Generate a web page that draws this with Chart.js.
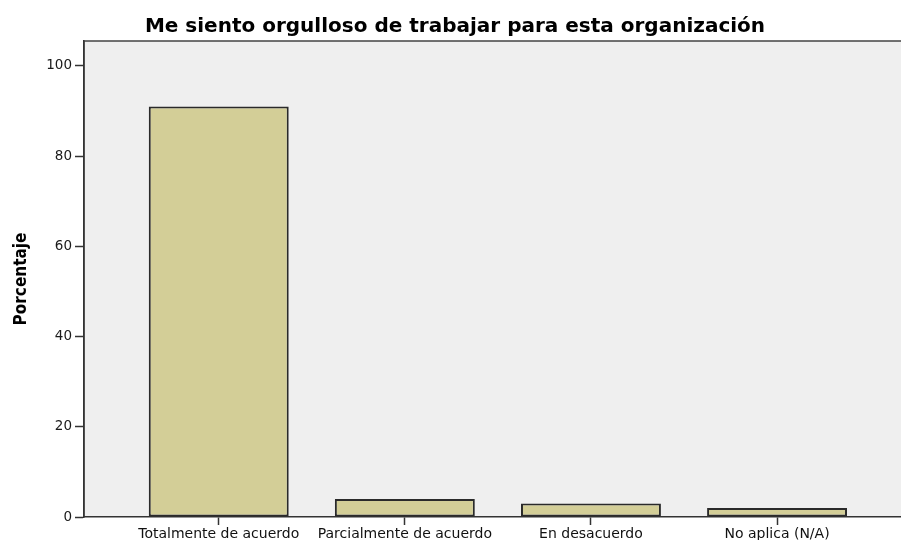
<!DOCTYPE html>
<html>
<head>
<meta charset="utf-8">
<script src="https://cdn.jsdelivr.net/npm/chart.js@4.4.1/dist/chart.umd.min.js"></script>
<style>
    html, body { margin: 0; padding: 0; background: #fff; overflow: hidden; }
    #wrap { position: relative; width: 901px; height: 540px; }
</style>
</head>
<body>
<div id="wrap"><canvas id="chart"></canvas></div>
<script>
// datos
const chartTitle = 'Me siento orgulloso de trabajar para esta organización';
const categories = ['Totalmente de acuerdo', 'Parcialmente de acuerdo', 'En desacuerdo', 'No aplica (N/A)'];
const percentages = [91, 4, 3, 2];
const yTicks = [0, 20, 40, 60, 80, 100];
const yLabel = 'Porcentaje';

// fondo gris y marco del área de trazado (estilo SPSS)
const plotFrame = {
    id: 'plotFrame',
    beforeDraw(chart) {
        const { ctx, chartArea: a } = chart;
        ctx.save();
        ctx.fillStyle = '#efefef';
        ctx.fillRect(a.left, a.top, a.right - a.left, a.bottom - a.top);
        ctx.strokeStyle = '#444';
        ctx.lineWidth = 1.5;
        ctx.beginPath();
        ctx.moveTo(a.left, a.bottom);
        ctx.lineTo(a.left, a.top);
        ctx.lineTo(a.right, a.top);
        ctx.stroke();
        ctx.restore();
    }
};

Chart.defaults.font.family = "'DejaVu Sans', sans-serif";
Chart.defaults.color = '#222';

const ctx = document.getElementById('chart').getContext('2d');
new Chart(ctx, {
    type: 'bar',
    data: {
        datasets: [{
            label: yLabel,
            data: percentages.map((v, i) => ({ x: i, y: v })),
            backgroundColor: '#d3ce97',
            borderColor: '#2a2a2a',
            borderWidth: 2,
            borderSkipped: false,
            barPercentage: 0.752,
            categoryPercentage: 1
        }]
    },
    options: {
        responsive: true,
        maintainAspectRatio: false,
        animation: false,
        layout: { padding: { left: 9, right: 0, top: 0, bottom: 0 } },
        plugins: {
            legend: { display: false },
            tooltip: { enabled: false },
            title: {
                display: true,
                text: chartTitle,
                color: '#000',
                font: { size: 20, weight: 'bold', lineHeight: 1.2 },
                padding: { top: 14.5, bottom: 2.5 }
            }
        },
        scales: {
            x: {
                type: 'linear',
                min: -0.724,
                max: 3.666,
                offset: false,
                afterBuildTicks: (scale) => { scale.ticks = categories.map((c, i) => ({ value: i })); },
                afterFit: (scale) => { scale.height = 23; },
                grid: { offset: false, drawOnChartArea: false, tickLength: 8, tickColor: '#333', tickWidth: 1.5 },
                border: { display: true, color: '#333', width: 1.5 },
                ticks: {
                    autoSkip: false,
                    maxRotation: 0,
                    padding: 1,
                    color: '#111',
                    font: { size: 14 },
                    callback: (v) => categories[v]
                }
            },
            y: {
                min: 0,
                max: 105.5,
                afterBuildTicks: (scale) => { scale.ticks = yTicks.map(v => ({ value: v })); },
                afterFit: (scale) => { scale.width = 75; },
                grid: { drawOnChartArea: false, tickLength: 9, tickColor: '#333', tickWidth: 1.5 },
                border: { display: true, color: '#333', width: 1.5 },
                ticks: { padding: 3, color: '#1a1a1a', font: { size: 13.5 } },
                title: {
                    display: true,
                    text: yLabel,
                    color: '#000',
                    font: { family: "'Liberation Sans Narrow', 'DejaVu Sans Condensed', 'Liberation Sans', sans-serif", size: 17, weight: 'bold', lineHeight: 1 },
                    padding: { top: 4, bottom: 0 }
                }
            }
        }
    },
    plugins: [plotFrame]
});
</script>
</body>
</html>
